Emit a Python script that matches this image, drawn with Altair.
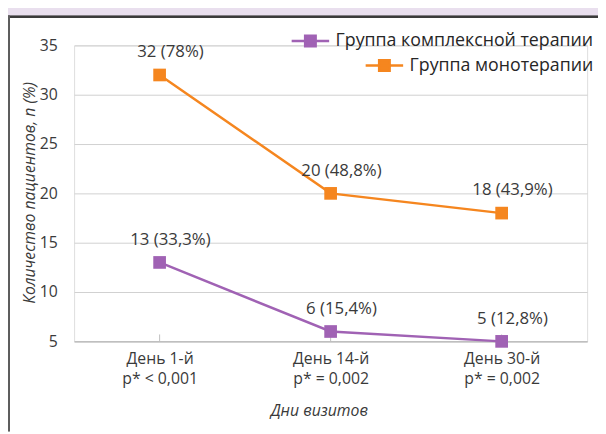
import altair as alt
import pandas as pd

days = ["День 1-й\np* < 0,001", "День 14-й\np* = 0,002", "День 30-й\np* = 0,002"]

series_a = "Группа комплексной терапии"
values_a = [13, 6, 5]
labels_a = ["13 (33,3%)", "6 (15,4%)", "5 (12,8%)"]

series_b = "Группа монотерапии"
values_b = [32, 20, 18]
labels_b = ["32 (78%)", "20 (48,8%)", "18 (43,9%)"]

PURPLE = "#A062B4"
ORANGE = "#F5861F"
TEXT = "#3a3a3a"
FONT = "Open Sans"

df_a = pd.DataFrame({"day": days, "value": values_a, "label": labels_a, "series": series_a})
df_b = pd.DataFrame({"day": days, "value": values_b, "label": labels_b, "series": series_b})
df_ticks = pd.DataFrame({"day": days})

x_enc = alt.X(
    "day:N",
    sort=days,
    scale=alt.Scale(type="point", padding=0.5),
    axis=alt.Axis(
        title="Дни визитов",
        titleFont=FONT, titleFontSize=16, titleFontStyle="italic", titleFontWeight="normal",
        titleColor=TEXT, titleX=248, titleY=70, titleBaseline="middle", titleAlign="center",
        labelExpr="split(datum.label, '\\n')",
        labelFont=FONT, labelFontSize=16, labelColor=TEXT, labelLineHeight=21,
        labelBaseline="top", labelPadding=9, labelAngle=0,
        ticks=False, domain=True, domainColor="#bfbfbf", domainWidth=1.5, grid=False,
    ),
)
y_enc = alt.Y(
    "value:Q",
    scale=alt.Scale(domain=[5, 35], nice=False, zero=False),
    axis=alt.Axis(
        title="Количество пациентов, n (%)",
        titleFont=FONT, titleFontSize=16, titleFontStyle="italic", titleFontWeight="normal",
        titleColor=TEXT, titleX=-45, titleY=149, titleAngle=-90, titleBaseline="middle",
        titleAlign="center",
        values=[5, 10, 15, 20, 25, 30, 35],
        labelFont=FONT, labelFontSize=16, labelColor=TEXT, labelPadding=17,
        ticks=False, domain=False, grid=True, gridColor="#d0d0d0", gridWidth=1,
    ),
)

symbol_path = "M-1,0H1M-0.28,-0.28H0.28V0.28H-0.28Z"


def series_layer(df, name, color, lx, ly):
    legend = alt.Legend(
        title=None, orient="none", legendX=lx, legendY=ly, padding=0,
        symbolType=symbol_path, symbolSize=1444, symbolStrokeWidth=2.5,
        symbolFillColor=color, symbolStrokeColor=color, symbolOpacity=1,
        labelFont=FONT, labelFontSize=18, labelColor="#262626", labelOffset=5,
        labelLimit=0,
    )
    color_enc = alt.Color("series:N", scale=alt.Scale(domain=[name], range=[color]), legend=legend)
    base = alt.Chart(df).encode(x=x_enc, y=y_enc)
    line = base.mark_line(strokeWidth=2.5).encode(color=color_enc)
    pts = base.mark_point(shape="square", filled=True, size=165, opacity=1).encode(color=color_enc)
    txt = base.mark_text(dx=11, dy=-23, font=FONT, fontSize=17, color=TEXT).encode(text="label:N")
    return alt.layer(line, pts, txt)


ticks = alt.Chart(df_ticks).mark_rule(color="#bfbfbf", strokeWidth=1).encode(
    x=x_enc, y=alt.value(293), y2=alt.value(300)
)

frame_strip = alt.Chart(df_ticks).mark_rect(color="#E9DFEE").encode(
    x=alt.value(-67), x2=alt.value(531), y=alt.value(-45), y2=alt.value(-30)
)
frame_top = alt.Chart(df_ticks).mark_rect(color="#3a3a3a").encode(
    x=alt.value(-67), x2=alt.value(531), y=alt.value(-30), y2=alt.value(-28)
)
frame_left = alt.Chart(df_ticks).mark_rect(color="#5e5e5e").encode(
    x=alt.value(-67), x2=alt.value(-65), y=alt.value(-30), y2=alt.value(391)
)

chart = alt.layer(
    frame_strip, frame_top, frame_left, ticks,
    series_layer(df_a, series_a, PURPLE, 219, -25),
    series_layer(df_b, series_b, ORANGE, 294, 0),
).resolve_scale(color="independent").properties(
    width=520, height=300,
    padding={"left": 67, "top": 35, "right": 11, "bottom": 91},
    autosize=alt.AutoSizeParams(type="none"),
).configure_view(stroke=None).configure(background="white")

chart.save("out.html", embed_options={"renderer": "svg", "actions": False})
